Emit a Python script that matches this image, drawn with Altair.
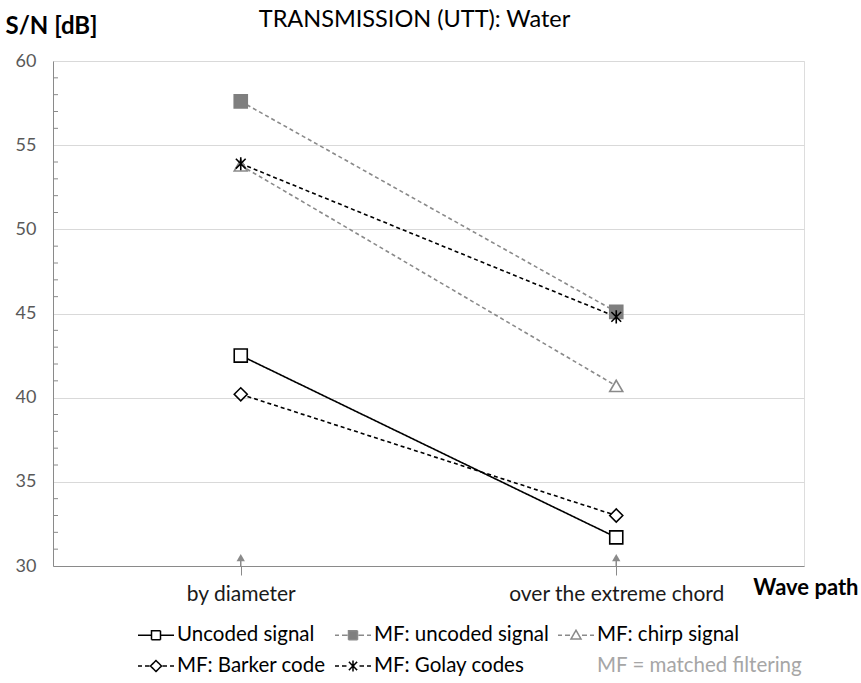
import altair as alt
import pandas as pd

# ---------------- data ----------------
categories = ["by diameter", "over the extreme chord"]
series_names = ["Uncoded signal", "MF: uncoded signal", "MF: chirp signal",
                "MF: Barker code", "MF: Golay codes"]
uncoded = [42.5, 31.7]
mf_uncoded = [57.6, 45.1]
mf_chirp = [53.8, 40.7]
mf_barker = [40.2, 33.0]
mf_golay = [53.9, 44.8]
note_label = "MF = matched filtering"
y_ticks = [30, 35, 40, 45, 50, 55, 60]
minor_ticks = [31, 32, 33, 34, 36, 37, 38, 39, 41, 42, 43, 44, 46, 47, 48, 49,
               51, 52, 53, 54, 56, 57, 58, 59]

values = [uncoded, mf_uncoded, mf_chirp, mf_barker, mf_golay]
rows = []
for name, vals in zip(series_names, values):
    for cat, v in zip(categories, vals):
        rows.append({"series": name, "path": cat, "sn": v})
df = pd.DataFrame(rows)
df_cat = pd.DataFrame({"path": categories})
df_minor = pd.DataFrame({"v": minor_ticks})

# ---------------- styles ----------------
BLACK = "#000000"
GRAY = "#8a8a8a"
GRAY_FILL = "#7f7f7f"
FONT = "Lato"

line_colors = [BLACK, GRAY, GRAY, BLACK, BLACK, "#ffffff"]
dashes = [[1, 0], [4, 3], [4, 3], [4, 3], [4, 3]]
star = "M-0.75,-0.75L0.75,0.75M-0.75,0.75L0.75,-0.75M0,-1L0,1"
shapes = ["square", "square", "triangle-up", "diamond", star]
fills = ["#ffffff", GRAY_FILL, "#ffffff", "#ffffff", "#ffffff"]
strokes = [BLACK, GRAY_FILL, GRAY, BLACK, BLACK]
sizes = [170, 170, 190, 290, 420]
stroke_widths = [1.6, 1.6, 1.6, 1.6, 2.0]

# legend glyphs (line + marker), in units of 12 px
U = 12.0


def seg(x1, x2):
    return "M%.3f,0L%.3f,0" % (x1 / U, x2 / U)


def line_part(dashed, half):
    if not dashed:
        return seg(-18, -half) + seg(half, 18)
    return seg(-18, -14) + seg(-11, -half - 1) + seg(half + 1, 11) + seg(14, 18)


def marker(kind, h):
    k = h / U
    if kind == "square":
        return "M%.3f,%.3fL%.3f,%.3fL%.3f,%.3fL%.3f,%.3fZ" % (-k, -k, k, -k, k, k, -k, k)
    if kind == "diamond":
        return "M0,%.3fL%.3f,0L0,%.3fL%.3f,0Z" % (-k, k, k, -k)
    if kind == "triangle":
        return "M0,%.3fL%.3f,%.3fL%.3f,%.3fZ" % (-k, k, k * 0.75, -k, k * 0.75)
    a = k * 0.75
    return ("M%.3f,%.3fL%.3f,%.3fM%.3f,%.3fL%.3f,%.3fM0,%.3fL0,%.3f"
            % (-a, -a, a, a, -a, a, a, -a, -k, k))


legend_glyph = {
    "Uncoded signal": line_part(False, 4.5) + marker("square", 4.5),
    "MF: uncoded signal": line_part(True, 4.5) + marker("square", 4.5),
    "MF: chirp signal": line_part(True, 5) + marker("triangle", 5),
    "MF: Barker code": line_part(True, 5.5) + marker("diamond", 5.5),
    "MF: Golay codes": line_part(True, 5.5) + marker("star", 5.5),
}


def expr_map(mapping, default, key="datum.value"):
    out = "'%s'" % default
    for k, v in reversed(list(mapping.items())):
        out = "%s === '%s' ? '%s' : %s" % (key, k, v, out)
    return alt.ExprRef(expr=out)


x_enc = alt.X("path:N", sort=categories, scale=alt.Scale(type="point", padding=0.5),
              axis=alt.Axis(title="Wave path", labelAngle=0, labelAlign="center",
                            labelFont=FONT, labelFontSize=21,
                            labelColor="#1a1a1a", labelPadding=25, labelBaseline="alphabetic",
                            labelLimit=400,
                            tickSize=9, tickColor="#8a8a8a", domainColor="#8a8a8a",
                            titleFont=FONT, titleFontSize=22, titleFontWeight="bold",
                            titleColor="#000000", titleAlign="right", titleBaseline="alphabetic",
                            titleX=805, titleY=28, zindex=1))
y_scale = alt.Scale(domain=[30, 60], nice=False, zero=False)
y_enc = alt.Y("sn:Q", scale=y_scale,
              axis=alt.Axis(values=y_ticks, title="S/N [dB]", grid=True, gridColor="#d9d9d9",
                            ticks=False, domainColor="#8a8a8a", labelFont=FONT, labelFontSize=18,
                            labelColor="#595959", labelPadding=17,
                            titleFont=FONT, titleFontSize=24, titleFontWeight="bold",
                            titleColor="#000000", titleAngle=0, titleAlign="left",
                            titleBaseline="alphabetic", titleX=-48, titleY=-28))

legend = alt.Legend(
    title=None, orient="none", legendX=90, legendY=561, columns=3, direction="horizontal",
    symbolSize=576, labelOffset=8, columnPadding=6, rowPadding=7,
    labelFont=FONT, labelFontSize=20.5, padding=0, labelLimit=400,
    symbolType=expr_map(legend_glyph, "M0,0"),
    symbolStrokeColor=expr_map({"MF: uncoded signal": GRAY, "MF: chirp signal": GRAY,
                                note_label: "transparent"}, BLACK),
    symbolFillColor=expr_map({"MF: uncoded signal": GRAY_FILL, note_label: "transparent"},
                             "#ffffff"),
    symbolStrokeWidth=1.5,
    symbolDash=[1, 0],
    labelColor=expr_map({note_label: "#a6a6a6"}, "#000000", key="datum.label"),
)

lines = alt.Chart(df).mark_line(strokeWidth=1.6).encode(
    x=x_enc,
    y=y_enc,
    color=alt.Color("series:N",
                    scale=alt.Scale(domain=series_names + [note_label], range=line_colors),
                    legend=legend),
    strokeDash=alt.StrokeDash("series:N", scale=alt.Scale(domain=series_names, range=dashes),
                              legend=None),
)

points = alt.Chart(df).mark_point(opacity=1).encode(
    x=alt.X("path:N", sort=categories),
    y=alt.Y("sn:Q"),
    shape=alt.Shape("series:N", scale=alt.Scale(domain=series_names, range=shapes), legend=None),
    fill=alt.Fill("series:N", scale=alt.Scale(domain=series_names, range=fills), legend=None),
    stroke=alt.Stroke("series:N", scale=alt.Scale(domain=series_names, range=strokes), legend=None),
    size=alt.Size("series:N", scale=alt.Scale(domain=series_names, range=sizes), legend=None),
    strokeWidth=alt.StrokeWidth("series:N",
                                scale=alt.Scale(domain=series_names, range=stroke_widths),
                                legend=None),
)

arrow_stem = alt.Chart(df_cat).mark_rule(color="#8a8a8a", strokeWidth=1.5).encode(
    x=alt.X("path:N", sort=categories), y=alt.datum(30), y2=alt.datum(30.35))
arrow_head = alt.Chart(df_cat).mark_point(shape="triangle-up", filled=True, color="#8a8a8a",
                                          opacity=1, size=70).encode(
    x=alt.X("path:N", sort=categories), y=alt.datum(30.5))

minor = alt.Chart(df_minor).mark_rule(color="#8a8a8a", strokeWidth=1).encode(
    x=alt.value(0), x2=alt.value(5), y=alt.Y("v:Q"))

chart = alt.layer(minor, arrow_stem, arrow_head, lines, points).resolve_scale(
    color="independent", fill="independent", stroke="independent"
).properties(
    width=751, height=505,
    title=alt.TitleParams("TRANSMISSION (UTT): Water", font=FONT, fontSize=23.5, fontWeight="normal",
                          color="#000000", anchor="middle", frame="group", dx=-14, offset=0, dy=17),
    autosize=alt.AutoSizeParams(type="none"),
    padding={"left": 53, "top": 61, "right": 57, "bottom": 117},
).configure_view(stroke="#8a8a8a", strokeWidth=1).configure(background="white")

chart.save("out.html", embed_options={"renderer": "svg", "actions": False})
